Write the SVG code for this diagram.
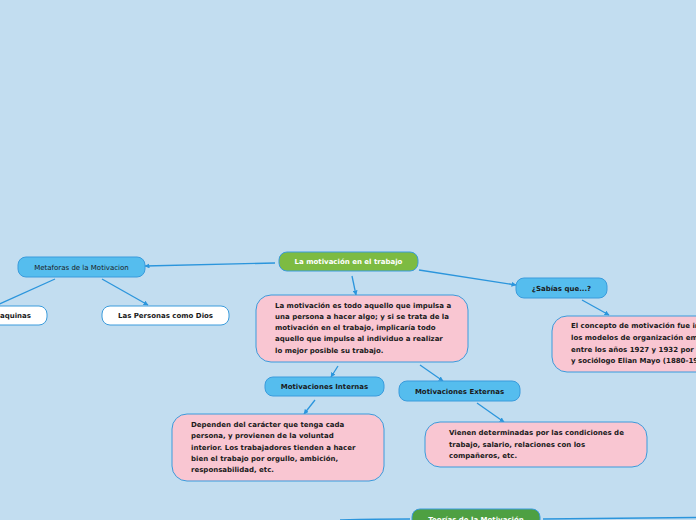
<svg xmlns="http://www.w3.org/2000/svg" width="696" height="520" viewBox="0 0 696 520">
<defs>
<style>
.bg{fill:#C2DDF0}
.blue{fill:#55BDEE;stroke:#3A9BDC;stroke-width:1}
.white{fill:#FFFFFF;stroke:#3A9BDC;stroke-width:1}
.pink{fill:#F9C6D2;stroke:#3A9BDC;stroke-width:1}
.green{fill:#7DBB42;stroke:#3A9BDC;stroke-width:1}
.dgreen{fill:#4EA042;stroke:#3A9BDC;stroke-width:1}
text{font-family:"DejaVu Sans",Verdana,sans-serif;font-size:7px;fill:#1a1a1a}
.b{font-weight:bold}
.w{fill:#FFFFFF;font-weight:bold}
.c{stroke:#2B95DC;stroke-width:1.3;fill:none}
.ca{stroke:#2B95DC;stroke-width:1.3;fill:none;marker-end:url(#ah)}
</style>
<marker id="ah" viewBox="0 0 10 10" refX="9" refY="5" markerWidth="5" markerHeight="5" orient="auto" markerUnits="userSpaceOnUse">
<path d="M0,0 L10,5 L0,10 z" fill="#2B95DC"/>
</marker>
</defs>
<rect class="bg" x="0" y="0" width="696" height="520"/>
<g id="connectors">
<path class="ca" d="M275,263 L145,266"/>
<path class="c" d="M55,279 L-5,306"/>
<path class="ca" d="M102,279 L148,305"/>
<path class="ca" d="M352,276 L356,295"/>
<path class="ca" d="M419,270 L516,285"/>
<path class="ca" d="M582,300 L609,315"/>
<path class="ca" d="M338,366 L331,377"/>
<path class="ca" d="M420,365 L443,381"/>
<path class="ca" d="M315,400 L304,414"/>
<path class="ca" d="M477,403 L504,422"/>
<path class="c" d="M340,520 Q380,519 410,519"/>
<path class="c" d="M543,519 L696,517.5"/>
</g>
<g id="main">
<rect class="green" x="279" y="252" width="139" height="19" rx="8"/>
<text class="w" x="348.5" y="264" text-anchor="middle">La motivación en el trabajo</text>
</g>
<g id="metaforas">
<rect class="blue" x="18" y="257" width="127" height="20" rx="8"/>
<text x="81.5" y="269.5" text-anchor="middle">Metaforas de la Motivacion</text>
</g>
<g id="maquinas">
<rect class="white" x="-60" y="306" width="107" height="19" rx="8"/>
<text class="b" x="31" y="318" text-anchor="end">Maquinas</text>
</g>
<g id="personas">
<rect class="white" x="102" y="306" width="127" height="19" rx="8"/>
<text class="b" x="165.5" y="318" text-anchor="middle">Las Personas como Dios</text>
</g>
<g id="definicion">
<rect class="pink" x="256" y="295" width="212" height="67" rx="15"/>
<text class="b" x="275" y="307.5">La motivación es todo aquello que impulsa a</text>
<text class="b" x="275" y="318.5">una persona a hacer algo; y si se trata de la</text>
<text class="b" x="275" y="329.5">motivación en el trabajo, implicaría todo</text>
<text class="b" x="275" y="341">aquello que impulse al individuo a realizar</text>
<text class="b" x="275" y="352.5">lo mejor posible su trabajo.</text>
</g>
<g id="internas">
<rect class="blue" x="265" y="377" width="119" height="19" rx="8"/>
<text class="b" x="324.5" y="389" text-anchor="middle">Motivaciones Internas</text>
</g>
<g id="externas">
<rect class="blue" x="399" y="381" width="121" height="20" rx="8"/>
<text class="b" x="459.5" y="393.5" text-anchor="middle">Motivaciones Externas</text>
</g>
<g id="sabias">
<rect class="blue" x="516" y="278" width="91" height="20" rx="8"/>
<text class="b" x="561.5" y="290.5" text-anchor="middle">¿Sabías que...?</text>
</g>
<g id="sabias-desc">
<rect class="pink" x="552" y="316" width="170" height="56" rx="15"/>
<text class="b" x="571" y="328">El concepto de motivación fue in</text>
<text class="b" x="571" y="340">los modelos de organización em</text>
<text class="b" x="571" y="351.5">entre los años 1927 y 1932 por</text>
<text class="b" x="571" y="363">y sociólogo Elian Mayo (1880-19</text>
</g>
<g id="internas-desc">
<rect class="pink" x="172" y="414" width="212" height="67" rx="15"/>
<text class="b" x="191" y="426.5">Dependen del carácter que tenga cada</text>
<text class="b" x="191" y="438">persona, y provienen de la voluntad</text>
<text class="b" x="191" y="449.5">interior. Los trabajadores tienden a hacer</text>
<text class="b" x="191" y="460.5">bien el trabajo por orgullo, ambición,</text>
<text class="b" x="191" y="472">responsabilidad, etc.</text>
</g>
<g id="externas-desc">
<rect class="pink" x="425" y="422" width="222" height="45" rx="15"/>
<text class="b" x="449" y="435">Vienen determinadas por las condiciones de</text>
<text class="b" x="449" y="446.5">trabajo, salario, relaciones con los</text>
<text class="b" x="449" y="457.5">compañeros, etc.</text>
</g>
<g id="teorias">
<rect class="dgreen" x="412" y="509" width="128" height="25" rx="8"/>
<text class="w" x="476" y="521.5" text-anchor="middle">Teorías de la Motivación</text>
</g>
</svg>
